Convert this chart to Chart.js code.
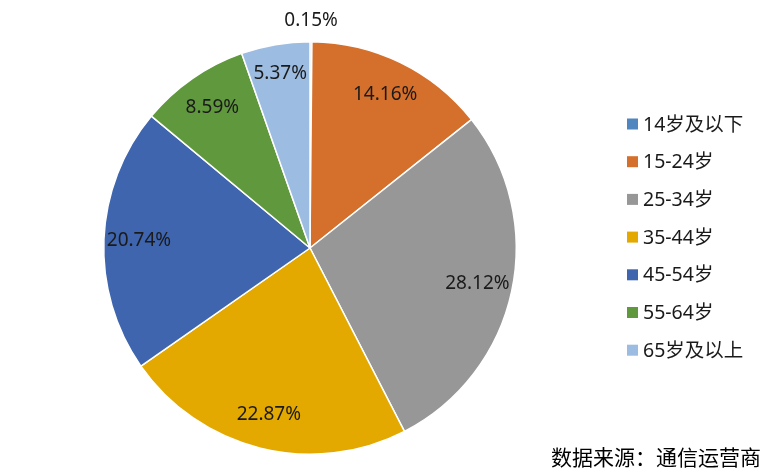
<!DOCTYPE html>
<html>
<head>
<meta charset="utf-8">
<script src="https://cdn.jsdelivr.net/npm/chart.js@4"></script>
<style>
  html, body { margin: 0; padding: 0; background: #fff; }
  #wrap { width: 770px; height: 474px; position: relative; }
</style>
</head>
<body>
<div id="wrap"><canvas id="pie" width="770" height="474"></canvas></div>
<script>
// 年龄段分布（数据来源：通信运营商）
const ageGroups = ["14岁及以下", "15-24岁", "25-34岁", "35-44岁", "45-54岁", "55-64岁", "65岁及以上"];
const shares = [0.15, 14.16, 28.12, 22.87, 20.74, 8.59, 5.37];
const sliceColors = ["#4F86BF", "#D5702C", "#979797", "#E3A900", "#3E65AD", "#60993D", "#9DBCE1"];
const sourceNote = "数据来源：通信运营商";

const NUM_FONT = '19px "Noto Sans", "Noto Sans CJK SC", sans-serif';
const CJK_FONT = '19.5px "Noto Sans", "Noto Sans CJK SC", sans-serif';

// 扇区百分比标签
const sliceLabels = {
  id: 'sliceLabels',
  afterDatasetsDraw(chart) {
    const ctx = chart.ctx;
    const arcs = chart.getDatasetMeta(0).data;
    ctx.save();
    ctx.font = NUM_FONT;
    ctx.fillStyle = '#1a1a1a';
    ctx.textAlign = 'center';
    ctx.textBaseline = 'middle';
    arcs.forEach((arc, i) => {
      const p = arc.getProps(['x', 'y', 'startAngle', 'endAngle', 'outerRadius'], true);
      const mid = (p.startAngle + p.endAngle) / 2;
      // 太小的扇区标签放在外面
      const r = shares[i] < 1 ? p.outerRadius + 21 : p.outerRadius * (shares[i] < 6 ? 0.86 : 0.83);
      ctx.fillText(shares[i].toFixed(2) + '%', p.x + Math.cos(mid) * r, p.y + Math.sin(mid) * r);
    });
    ctx.restore();
  }
};

// 右侧图例 + 来源说明
const sideLegend = {
  id: 'sideLegend',
  afterDraw(chart) {
    const ctx = chart.ctx;
    ctx.save();
    ctx.font = CJK_FONT;
    ctx.textBaseline = 'middle';
    ctx.textAlign = 'left';
    ageGroups.forEach((name, i) => {
      const y = 124 + i * 37.7;
      ctx.fillStyle = sliceColors[i];
      ctx.fillRect(627, y - 5.5, 11, 11);
      ctx.fillStyle = '#1a1a1a';
      ctx.fillText(name, 643, y + 1);
    });
    ctx.font = '21px "Noto Sans CJK SC", sans-serif';
    ctx.textAlign = 'right';
    ctx.fillStyle = '#000';
    ctx.fillText(sourceNote, 761, 457);
    ctx.restore();
  }
};

new Chart(document.getElementById('pie'), {
  type: 'pie',
  data: {
    labels: ageGroups,
    datasets: [{
      data: shares,
      backgroundColor: sliceColors,
      borderColor: '#ffffff',
      borderWidth: 1.5
    }]
  },
  options: {
    responsive: false,
    animation: false,
    layout: { padding: { top: 41, bottom: 19, left: 0, right: 150 } },
    plugins: {
      legend: { display: false },
      tooltip: { enabled: false }
    }
  },
  plugins: [sliceLabels, sideLegend]
});
</script>
</body>
</html>
